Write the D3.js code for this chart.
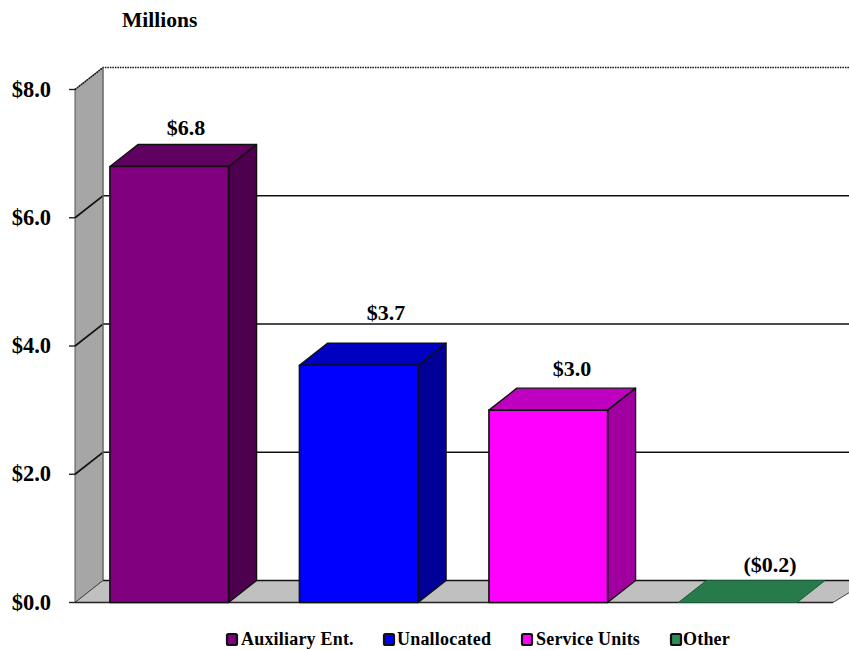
<!DOCTYPE html>
<html><head><meta charset="utf-8">
<script src="https://cdn.jsdelivr.net/npm/d3@7/dist/d3.min.js"></script>
<style>html,body{margin:0;padding:0;background:#fff;overflow:hidden}text{font-family:"Liberation Serif",serif;font-weight:bold;fill:#000}</style>
</head><body><svg id="c" width="849" height="650"></svg>
<script>
const categories = ["Auxiliary Ent.", "Unallocated", "Service Units", "Other"];
const values = [6.8, 3.7, 3.0, -0.2];
const valueLabels = ["$6.8", "$3.7", "$3.0", "($0.2)"];
const ticks = [0, 2, 4, 6, 8];
const frontColors = ["#800080", "#0000ff", "#ff00ff", "#2e8b57"];
const topColors = ["#600060", "#0000c0", "#c000c0", "#267a4c"];
const sideColors = ["#4d004d", "#000099", "#a000a0", "#1f6b42"];

const svg = d3.select("#c");
const dx = 28, dy = -22;
const legendX = [226, 383, 521, 670];
const legendTextX = [241, 397, 536, 683];
const labelCx = [186, 386, 572, 770];
const labelBase = [135, 320, 376, 572];
const y = d3.scaleLinear().domain([0, 8]).range([602.5, 89.5]);
const x = d3.scaleBand().domain(categories).range([74.5, 832.5]).paddingInner(0.374).paddingOuter(0.187);
const right = 849;
const poly = (pts, fill, stroke, sw) => svg.append("polygon")
  .attr("points", pts.map(p => p.join(",")).join(" "))
  .attr("fill", fill).attr("stroke", stroke || "none").attr("stroke-width", sw || 0).attr("stroke-linejoin", "round");

// walls and floor
const x0 = 75;
poly([[x0, y(0)], [x0 + dx, y(0) + dy], [x0 + dx, y(8) + dy], [x0, y(8)]], "#a6a6a6", "#555", 1);
poly([[x0, y(0)], [x0 + dx, y(0) + dy], [right + 20, y(0) + dy], [833, y(0)]], "#c0c0c0", "#444", 1);

// gridlines
ticks.forEach(t => {
  const yy = y(t);
  svg.append("path").attr("fill", "none").attr("stroke", "#111").attr("stroke-width", 1.6)
    .attr("stroke-dasharray", t === 8 ? "1.5 1" : null)
    .attr("d", t === 0 ? `M${x0 + dx},${yy + dy}H${right}`
      : `M${x0},${yy}L${x0 + dx},${yy + dy}H${right}`);
  svg.append("line").attr("x1", x0 - 6).attr("x2", x0).attr("y1", yy).attr("y2", yy)
    .attr("stroke", "#222").attr("stroke-width", 1.4);
  svg.append("text").attr("x", 51).attr("y", yy + 7).attr("text-anchor", "end")
    .attr("font-size", 22.5).text("$" + t.toFixed(1));
});
svg.append("line").attr("x1", x0).attr("x2", 833).attr("y1", y(0)).attr("y2", y(0)).attr("stroke", "#222").attr("stroke-width", 1.6);
svg.append("line").attr("x1", x0 + dx).attr("x2", x0 + dx).attr("y1", y(0) + dy).attr("y2", y(8) + dy).attr("stroke", "#777").attr("stroke-width", 1.2);

// bars
categories.forEach((c, i) => {
  const v = Math.max(0, values[i]);
  const a = x(c), b = a + x.bandwidth(), t = y(v), z = y(0);
  const edge = "#111";
  if (v > 0) {
    poly([[b, t], [b + dx, t + dy], [b + dx, z + dy], [b, z]], sideColors[i], edge, 1.4);
    poly([[a, t], [a + dx, t + dy], [b + dx, t + dy], [b, t]], topColors[i], edge, 1.4);
    poly([[a, t], [b, t], [b, z], [a, z]], frontColors[i], edge, 1.6);
  } else {
    poly([[a, t], [a + dx, t + dy], [b + dx, t + dy], [b, t]], topColors[i], "#1a5c38", 1);
  }
  svg.append("text").attr("x", labelCx[i]).attr("y", labelBase[i]).attr("text-anchor", "middle")
    .attr("font-size", 22).text(valueLabels[i]);
});

// title
svg.append("text").attr("x", 122).attr("y", 27).attr("font-size", 21.5).text("Millions");

// legend
categories.forEach((c, i) => {
  svg.append("rect").attr("x", legendX[i] + 1).attr("y", 634).attr("width", 10).attr("height", 11).attr("rx", 1.5)
    .attr("fill", frontColors[i]).attr("stroke", "#111").attr("stroke-width", 2.2);
  svg.append("text").attr("x", legendTextX[i]).attr("y", 645).attr("font-size", 18).attr("letter-spacing", 0.2).text(c);
});
</script></body></html>
